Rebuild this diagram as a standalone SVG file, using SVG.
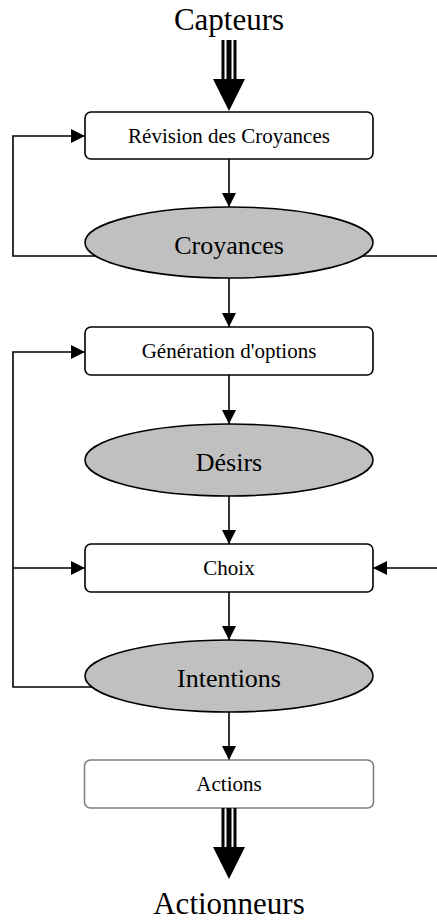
<svg xmlns="http://www.w3.org/2000/svg" width="437" height="922" viewBox="0 0 437 922">
<style>
.box{fill:#fff;stroke:#000;stroke-width:1.6}
.box2{fill:#fff;stroke:#7f7f7f;stroke-width:1.6}
.ell{fill:#c0c0c0;stroke:#000;stroke-width:1.6}
.ln{fill:none;stroke:#000;stroke-width:1.6}
.lbl{font-family:"Liberation Serif","Times New Roman",serif;font-size:21px;text-anchor:middle;fill:#000}
.big{font-family:"Liberation Serif","Times New Roman",serif;font-size:26px;text-anchor:middle;fill:#000}
.huge{font-family:"Liberation Serif","Times New Roman",serif;font-size:31px;text-anchor:middle;fill:#000}
</style>
<defs>
<marker id="ah" markerUnits="userSpaceOnUse" markerWidth="14" markerHeight="14" refX="14" refY="7" orient="auto">
<path d="M0,0 L14,7 L0,14 z" fill="#000"/>
</marker>
</defs>
<g id="connectors">
<line class="ln" x1="229" y1="159" x2="229" y2="207" marker-end="url(#ah)"/>
<line class="ln" x1="229" y1="278" x2="229" y2="327" marker-end="url(#ah)"/>
<line class="ln" x1="229" y1="375" x2="229" y2="424" marker-end="url(#ah)"/>
<line class="ln" x1="229" y1="496" x2="229" y2="544" marker-end="url(#ah)"/>
<line class="ln" x1="229" y1="592" x2="229" y2="640" marker-end="url(#ah)"/>
<line class="ln" x1="229" y1="712" x2="229" y2="760" marker-end="url(#ah)"/>
<polyline class="ln" points="100,256 13,256 13,136 85,136" marker-end="url(#ah)"/>
<line class="ln" x1="360" y1="256" x2="437" y2="256"/>
<polyline class="ln" points="100,687 13,687 13,352 85,352" marker-end="url(#ah)"/>
<line class="ln" x1="13" y1="568" x2="85" y2="568" marker-end="url(#ah)"/>
<line class="ln" x1="437" y1="568" x2="373" y2="568" marker-end="url(#ah)"/>
</g>
<g id="capteurs">
<text class="huge" x="229" y="30">Capteurs</text>
<rect x="221.5" y="40" width="3" height="40" fill="#000"/>
<rect x="226.5" y="40" width="5" height="40" fill="#000"/>
<rect x="233.5" y="40" width="3" height="40" fill="#000"/>
<polygon points="213,79 245,79 229,111" fill="#000"/>
</g>
<g id="revision">
<rect class="box" x="85" y="112" width="288" height="47" rx="6"/>
<text class="lbl" x="229" y="143">Révision des Croyances</text>
</g>
<g id="croyances">
<ellipse class="ell" cx="229" cy="242.5" rx="144" ry="35.5"/>
<text class="big" x="229" y="254">Croyances</text>
</g>
<g id="generation">
<rect class="box" x="85" y="327" width="288" height="48" rx="6"/>
<text class="lbl" x="229" y="358">Génération d'options</text>
</g>
<g id="desirs">
<ellipse class="ell" cx="229" cy="460" rx="144" ry="36"/>
<text class="big" x="229" y="471">Désirs</text>
</g>
<g id="choix">
<rect class="box" x="85" y="544" width="288" height="48" rx="6"/>
<text class="lbl" x="229" y="575">Choix</text>
</g>
<g id="intentions">
<ellipse class="ell" cx="229" cy="676" rx="144" ry="36"/>
<text class="big" x="229" y="687">Intentions</text>
</g>
<g id="actions">
<rect class="box2" x="84.5" y="760" width="289" height="48" rx="6"/>
<text class="lbl" x="229" y="791">Actions</text>
</g>
<g id="actionneurs">
<rect x="221.5" y="808" width="3" height="40" fill="#000"/>
<rect x="226.5" y="808" width="5" height="40" fill="#000"/>
<rect x="233.5" y="808" width="3" height="40" fill="#000"/>
<polygon points="213,847 245,847 229,879" fill="#000"/>
<text class="huge" x="229" y="914">Actionneurs</text>
</g>
</svg>
